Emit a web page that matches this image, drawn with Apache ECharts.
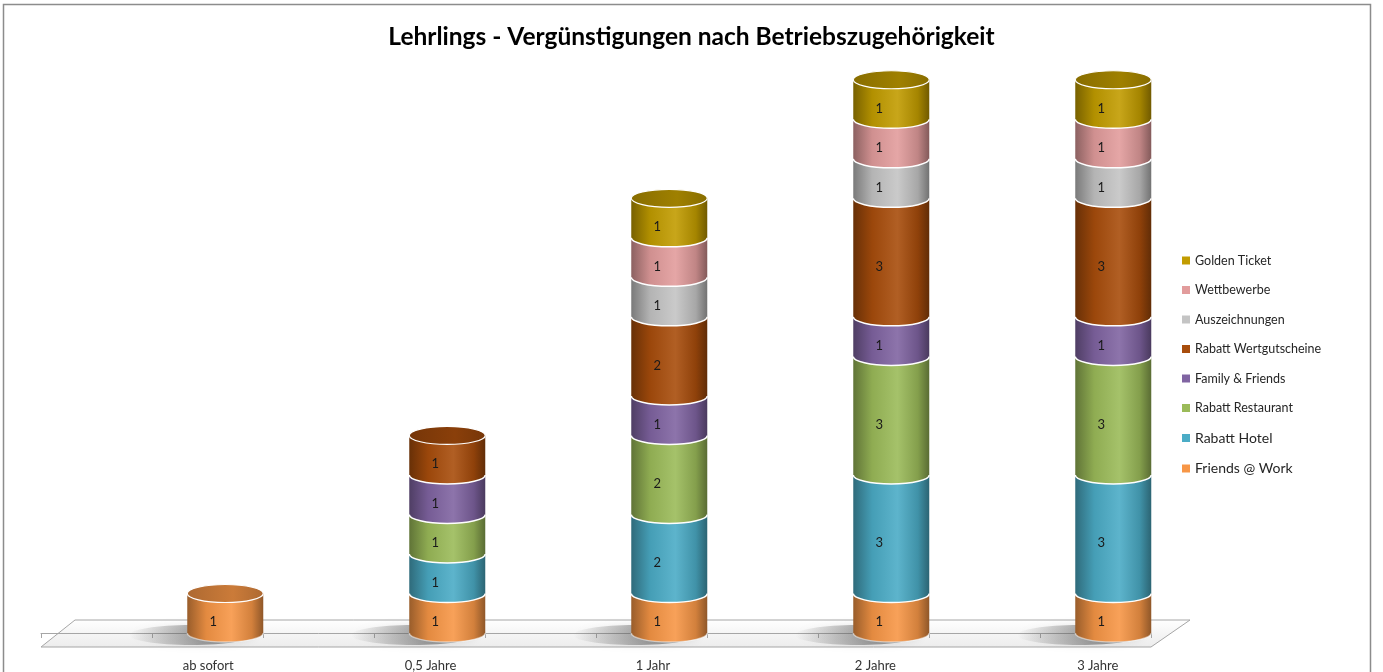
<!DOCTYPE html>
<html lang="de">
<head>
    <meta charset="UTF-8">
    <title>Lehrlings - Vergünstigungen nach Betriebszugehörigkeit</title>
    <style>
        html, body { margin: 0; padding: 0; background: #fff; }
        #chart { width: 1383px; height: 672px; }
    </style>
    <script src="https://cdn.jsdelivr.net/npm/echarts@6/dist/echarts.min.js"></script>
</head>
<body>
    <div id="chart"></div>
    <script>
        // categories and series values, bottom of stack first
        var categories = ['ab sofort', '0,5 Jahre', '1 Jahr', '2 Jahre', '3 Jahre'];
        var seriesNames = ['Friends @ Work', 'Rabatt Hotel', 'Rabatt Restaurant', 'Family & Friends',
            'Rabatt Wertgutscheine', 'Auszeichnungen', 'Wettbewerbe', 'Golden Ticket'];
        var friendsAtWork = [1, 1, 1, 1, 1];
        var rabattHotel = [0, 1, 2, 3, 3];
        var rabattRestaurant = [0, 1, 2, 3, 3];
        var familyFriends = [0, 1, 1, 1, 1];
        var rabattWertgutscheine = [0, 1, 2, 3, 3];
        var auszeichnungen = [0, 0, 1, 1, 1];
        var wettbewerbe = [0, 0, 1, 1, 1];
        var goldenTicket = [0, 0, 1, 1, 1];

        var values = [friendsAtWork, rabattHotel, rabattRestaurant, familyFriends,
            rabattWertgutscheine, auszeichnungen, wettbewerbe, goldenTicket];
        var colors = ['#F79646', '#4BACC6', '#9BBB59', '#8064A2', '#A84D0C', '#C4C4C4', '#E29C9C', '#C29C00'];

        var RX = 38, RY = 9;
        var FONT = 'Lato, "Open Sans", sans-serif';

        // bar position on the 0..10 tick axis (3D depth shifts bars to the right)
        function barX(i) { return 1.66 + 2 * i; }

        function shade(hex, f) {
            var n = parseInt(hex.slice(1), 16);
            var r = (n >> 16) & 255, g = (n >> 8) & 255, b = n & 255;
            function c(v) {
                v = f < 0 ? v * (1 + f) : v + (255 - v) * f;
                return Math.max(0, Math.min(255, Math.round(v)));
            }
            return 'rgb(' + c(r) + ',' + c(g) + ',' + c(b) + ')';
        }

        function makeRender(si) {
            return function (params, api) {
                var i = api.value(0);
                var v = api.value(1);
                if (!v) return null;
                var base = 0;
                for (var k = 0; k < si; k++) base += values[k][i];
                var isTop = true;
                for (var k2 = si + 1; k2 < values.length; k2++) if (values[k2][i]) isTop = false;
                var pb = api.coord([barX(i), base]);
                var pt = api.coord([barX(i), base + v]);
                var cx = pb[0], yb = pb[1], yt = pt[1];
                var col = colors[si];
                var grad = new echarts.graphic.LinearGradient(0, 0, 1, 0, [
                    { offset: 0, color: shade(col, -0.38) },
                    { offset: 0.25, color: shade(col, -0.08) },
                    { offset: 0.58, color: shade(col, 0.1) },
                    { offset: 0.85, color: shade(col, -0.15) },
                    { offset: 1, color: shade(col, -0.42) }
                ]);
                var children = [{
                    type: 'path',
                    shape: {
                        pathData: 'M' + (cx - RX) + ' ' + yt + ' L' + (cx - RX) + ' ' + yb +
                            ' A' + RX + ' ' + RY + ' 0 0 0 ' + (cx + RX) + ' ' + yb +
                            ' L' + (cx + RX) + ' ' + yt + ' Z'
                    },
                    style: { fill: grad, stroke: null }
                }, {
                    type: 'path',
                    shape: {
                        pathData: 'M' + (cx - RX) + ' ' + yb +
                            ' A' + RX + ' ' + RY + ' 0 0 0 ' + (cx + RX) + ' ' + yb
                    },
                    style: { fill: null, stroke: si === 0 ? 'rgba(255,255,255,0.5)' : '#fff', lineWidth: 1.5 }
                }];
                if (isTop) {
                    children.push({
                        type: 'ellipse',
                        shape: { cx: cx, cy: yt, rx: RX, ry: RY },
                        style: {
                            fill: new echarts.graphic.LinearGradient(0, 0, 1, 0, [
                                { offset: 0, color: shade(col, -0.3) },
                                { offset: 0.6, color: shade(col, -0.18) },
                                { offset: 1, color: shade(col, -0.3) }
                            ]),
                            stroke: '#fff', lineWidth: 1.2
                        }
                    });
                }
                children.push({
                    type: 'text',
                    style: {
                        text: String(v), x: cx - 12, y: (yb + yt) / 2 + RY,
                        align: 'center', verticalAlign: 'middle',
                        fill: '#1a1a1a', font: '13px ' + FONT
                    }
                });
                return { type: 'group', children: children };
            };
        }

        var series = [{
            // floor shadows under each cylinder
            type: 'custom',
            name: 'shadow',
            xAxisIndex: 0, yAxisIndex: 0,
            data: categories.map(function (c, i) { return [i, 0]; }),
            renderItem: function (params, api) {
                var p = api.coord([barX(api.value(0)), 0]);
                return {
                    type: 'ellipse',
                    shape: { cx: p[0] - 34, cy: p[1] + 2, rx: 62, ry: 10 },
                    style: {
                        fill: new echarts.graphic.LinearGradient(0, 0, 1, 0, [
                            { offset: 0, color: 'rgba(80,80,80,0)' },
                            { offset: 0.6, color: 'rgba(80,80,80,0.5)' },
                            { offset: 1, color: 'rgba(80,80,80,0.6)' }
                        ]),
                        shadowBlur: 8, shadowColor: 'rgba(120,120,120,0.4)'
                    },
                    silent: true
                };
            },
            z: 1
        }];
        seriesNames.forEach(function (name, si) {
            series.push({
                type: 'custom',
                name: name,
                xAxisIndex: 0, yAxisIndex: 0,
                itemStyle: { color: colors[si] },
                data: values[si].map(function (v, i) { return [i, v]; }),
                renderItem: makeRender(si),
                z: 2 + si
            });
        });

        var legendData = seriesNames.slice().reverse().map(function (n) {
            var big = (n === 'Rabatt Hotel' || n === 'Friends @ Work');
            return { name: n, textStyle: { fontSize: big ? 14 : 12.5 } };
        });

        var chart = echarts.init(document.getElementById('chart'), null, { renderer: 'canvas' });
        chart.setOption({
            animation: false,
            backgroundColor: '#fff',
            title: {
                text: 'Lehrlings - Vergünstigungen nach Betriebszugehörigkeit',
                left: 'center', top: 20,
                textStyle: { fontFamily: FONT, fontWeight: 'bold', fontSize: 24.5, color: '#000' }
            },
            legend: {
                orient: 'vertical',
                left: 1177, top: 249,
                itemWidth: 8, itemHeight: 8, itemGap: 16.5,
                icon: 'rect',
                data: legendData,
                textStyle: { fontFamily: FONT, color: '#262626', fontSize: 12.5 }
            },
            graphic: [{
                type: 'rect',
                shape: { x: 3.5, y: 4.5, width: 1367, height: 700 },
                style: { fill: null, stroke: '#8c8c8c', lineWidth: 1.5 },
                z: 0, silent: true
            }, {
                type: 'polygon',
                shape: { points: [[41, 647], [75, 620], [1190, 620], [1151, 647]] },
                style: {
                    fill: new echarts.graphic.LinearGradient(0, 0, 0, 1, [
                        { offset: 0, color: '#ffffff' },
                        { offset: 1, color: '#ececec' }
                    ]),
                    stroke: '#a6a6a6', lineWidth: 1
                },
                z: 0, silent: true
            }],
            grid: [
                { left: 41, right: 232, top: 60, bottom: 25 },
                { left: 97, right: 174, top: 600, bottom: 25 }
            ],
            xAxis: [{
                type: 'value', gridIndex: 0, min: 0, max: 10, interval: 1,
                axisLine: { show: true, lineStyle: { color: '#a6a6a6' } },
                axisTick: { show: true, length: 5, lineStyle: { color: '#a6a6a6' } },
                axisLabel: { show: false },
                splitLine: { show: false }
            }, {
                type: 'category', gridIndex: 1, data: categories,
                axisLine: { show: false }, axisTick: { show: false },
                axisLabel: { fontFamily: FONT, fontSize: 13, color: '#333', margin: 12 }
            }],
            yAxis: [{
                type: 'value', gridIndex: 0, min: -0.354, max: 14.5,
                show: false, splitLine: { show: false }
            }, {
                type: 'value', gridIndex: 1, show: false
            }],
            series: series
        });
    </script>
</body>
</html>
